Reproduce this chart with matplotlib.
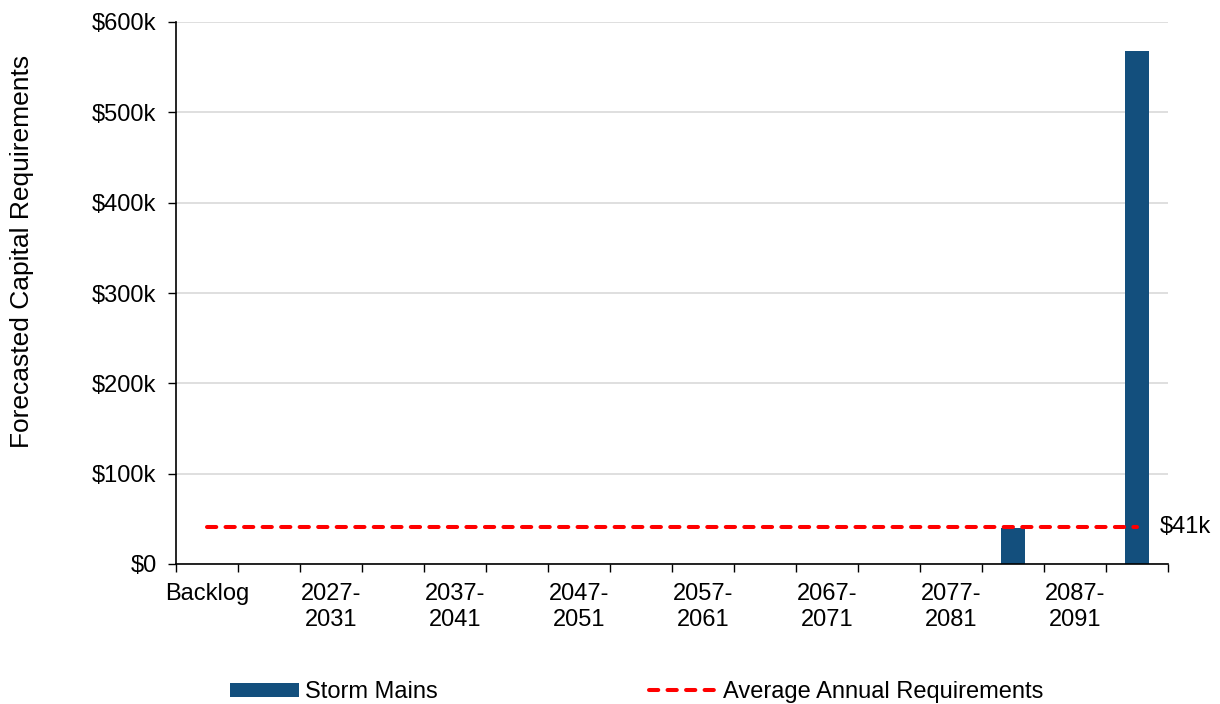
import matplotlib
matplotlib.use("Agg")
import matplotlib.pyplot as plt
from matplotlib.ticker import FuncFormatter, FixedLocator

plt.rcParams["font.family"] = ["Liberation Sans", "DejaVu Sans"]

# five-year planning periods after the backlog
periods = ["Backlog"] + [f"{y}-\n{y + 4}" for y in range(2022, 2097, 5)]
storm_mains = [0, 0, 0, 0, 0, 0, 0, 0, 0, 0, 0, 0, 0, 40000, 0, 568000]
avg_annual = 41000
avg_label = "$41k"

bar_color = "#134F7D"

fig = plt.figure(figsize=(12.2, 7.04), dpi=100)
ax = fig.add_axes([176 / 1220, 1 - 564 / 704, 992 / 1220, 542 / 704])

x = list(range(len(periods)))
bars = ax.bar(x, storm_mains, width=0.4, color=bar_color, label="Storm Mains", zorder=2)
avg_line, = ax.plot([x[0], x[-1]], [avg_annual, avg_annual], color="#FF0000", lw=2.9,
                    linestyle=(0, (2.3, 2.3)), dash_capstyle="round",
                    label="Average Annual Requirements", zorder=3)
ax.annotate(avg_label, xy=(x[-1] + 0.37, avg_annual), ha="left", va="center",
            fontsize=17, annotation_clip=False)

ax.set_xlim(-0.5, len(periods) - 0.5)
ax.set_ylim(0, 600000)
ax.set_yticks(range(0, 600001, 100000))
ax.yaxis.set_major_formatter(FuncFormatter(
    lambda v, p: "$0" if v == 0 else f"${v / 1000:.0f}k"))
ax.grid(axis="y", color="#D9D9D9", lw=1.2, zorder=0)
ax.set_axisbelow(True)

# boundary ticks between periods, labels on every other period centre
ax.xaxis.set_major_locator(FixedLocator([i - 0.5 for i in range(len(periods) + 1)]))
ax.xaxis.set_major_formatter(FuncFormatter(lambda v, p: ""))
ax.xaxis.set_minor_locator(FixedLocator(x[::2]))
ax.set_xticklabels(periods[::2], minor=True)
ax.tick_params(axis="x", which="major", length=6, width=1, direction="out")
ax.tick_params(axis="x", which="minor", length=0, labelsize=17, pad=14)
ax.tick_params(axis="y", length=6, width=1, labelsize=17, pad=8)

for side in ("top", "right"):
    ax.spines[side].set_visible(False)
for side in ("left", "bottom"):
    ax.spines[side].set_color("black")
    ax.spines[side].set_linewidth(1.2)

fig.text(22 / 1220, 1 - 251 / 704, "Forecasted Capital Requirements",
         rotation=90, ha="center", va="center", fontsize=19)

fig.legend(handles=[bars, avg_line], loc="center",
           bbox_to_anchor=(637 / 1220, 1 - 692 / 704), ncol=2,
           frameon=False, fontsize=17, handlelength=2.9, handleheight=0.55,
           handletextpad=0.25, columnspacing=8.95)

fig.savefig("out.png", dpi=100)
